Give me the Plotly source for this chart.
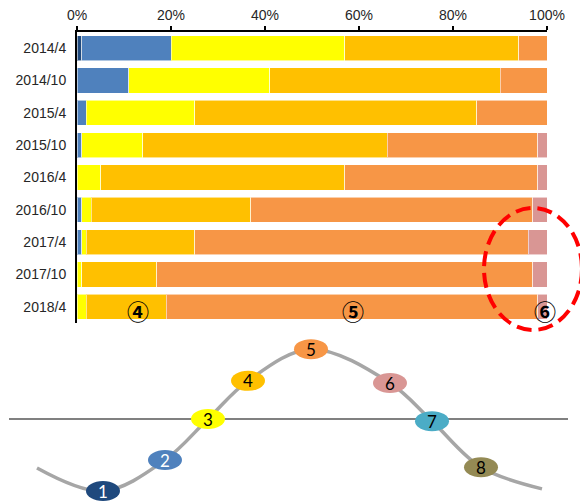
import plotly.graph_objects as go

# ---- stacked share data (percent of each survey round) ----
periods = ["2014/4", "2014/10", "2015/4", "2015/10", "2016/4",
           "2016/10", "2017/4", "2017/10", "2018/4"]
stage1 = [1, 0, 0, 0, 0, 0, 0, 0, 0]
stage2 = [19, 11, 2, 1, 0, 1, 1, 0, 0]
stage3 = [37, 30, 23, 13, 5, 2, 1, 1, 2]
stage4 = [37, 49, 60, 52, 52, 34, 23, 16, 17]
stage5 = [6, 10, 15, 32, 41, 60, 71, 80, 79]
stage6 = [0, 0, 0, 2, 2, 3, 4, 3, 2]

tick_vals = [0, 20, 40, 60, 80, 100]
tick_text = ["0%", "20%", "40%", "60%", "80%", "100%"]

# ---- cycle diagram: stage labels and their place on the wave ----
stage_labels = ["1", "2", "3", "4", "5", "6", "7", "8"]
stage_pos_x = [103, 165, 208, 248, 311, 390, 432, 481]
stage_level = [-1.0, -0.57, 0.0, 0.53, 0.97, 0.5, -0.03, -0.67]
wave_x = [37] + stage_pos_x + [542]
wave_y = [-0.68] + stage_level + [-0.97]

stage_colors = ["#1F497D", "#4F81BD", "#FFFF00", "#FFC000",
                "#F79646", "#D99694", "#4BACC6", "#948A54"]
stage_text_colors = ["white", "white", "black", "black",
                     "black", "black", "black", "black"]

W, H = 580, 501
fig = go.Figure()

series = [stage1, stage2, stage3, stage4, stage5, stage6]
for i, vals in enumerate(series):
    fig.add_trace(go.Bar(
        y=periods, x=vals, orientation="h",
        marker=dict(color=stage_colors[i],
                    line=dict(color="rgba(255,255,255,0.55)", width=1)),
        name=stage_labels[i], showlegend=False, hoverinfo="x+y",
        xaxis="x", yaxis="y",
    ))

# cycle wave and the zero line
fig.add_trace(go.Scatter(
    x=[9, 568], y=[0, 0], mode="lines",
    line=dict(color="#808080", width=2),
    xaxis="x2", yaxis="y2", showlegend=False, hoverinfo="skip"))
fig.add_trace(go.Scatter(
    x=wave_x, y=wave_y, mode="lines",
    line=dict(color="#A6A6A6", width=3.5, shape="spline", smoothing=1.0),
    xaxis="x2", yaxis="y2", showlegend=False, hoverinfo="skip"))

# diagram units: 72 px per level unit, midline at 419 px from the top
unit = 72.0
y2_top = 419 / unit
y2_bot = (419 - H) / unit

shapes = []
annotations = []
for lab, sx, sy, col, tcol in zip(stage_labels, stage_pos_x, stage_level,
                                  stage_colors, stage_text_colors):
    shapes.append(dict(type="circle", xref="x2", yref="y2",
                       x0=sx - 17, x1=sx + 17,
                       y0=sy - 10 / unit, y1=sy + 10 / unit,
                       fillcolor=col, line=dict(width=0), layer="above"))
    annotations.append(dict(x=sx, y=sy, xref="x2", yref="y2", text=lab,
                            showarrow=False,
                            font=dict(family="Lato", size=17, color=tcol)))

# highlight of the late-stage share
shapes.append(dict(type="circle", xref="x2", yref="y2",
                   x0=484, x1=582,
                   y0=(419 - 330) / unit, y1=(419 - 208) / unit,
                   line=dict(color="#FF0000", width=4, dash="15px,7px"),
                   fillcolor="rgba(0,0,0,0)", layer="above"))

# circled stage markers on the latest bar
for txt, xv in [("④", 13), ("⑤", 58.7), ("⑥", 99.6)]:
    annotations.append(dict(x=xv, y="2018/4", xref="x", yref="y",
                            text="<b>" + txt + "</b>", yshift=-3,
                            showarrow=False,
                            font=dict(family="Noto Sans CJK JP", size=22,
                                      color="black")))

fig.update_layout(
    width=W, height=H,
    margin=dict(l=0, r=0, t=0, b=0, autoexpand=False),
    paper_bgcolor="white", plot_bgcolor="rgba(0,0,0,0)",
    barmode="stack", bargap=0.225,
    xaxis=dict(domain=[77 / W, 547 / W], range=[0, 100], side="top",
               tickvals=tick_vals, ticktext=tick_text,
               ticks="outside", ticklen=4, tickwidth=1.5, tickcolor="black",
               showline=True, linecolor="black", linewidth=2,
               showgrid=False, zeroline=False, fixedrange=True,
               automargin=False,
               tickfont=dict(family="Liberation Sans", size=14, color="#262626"),
               anchor="y"),
    yaxis=dict(domain=[1 - 323 / H, 1 - 32 / H],
               categoryorder="array", categoryarray=periods,
               autorange="reversed",
               showline=True, linecolor="black", linewidth=2,
               ticks="", showgrid=False, zeroline=False,
               ticklabelstandoff=6, automargin=False,
               tickfont=dict(family="Liberation Sans", size=14, color="#262626"),
               anchor="x"),
    xaxis2=dict(domain=[0, 1], range=[0, W], visible=False, anchor="y2",
                fixedrange=True, automargin=False),
    yaxis2=dict(domain=[0, 1], range=[y2_bot, y2_top], visible=False,
                anchor="x2", fixedrange=True, automargin=False),
    shapes=shapes, annotations=annotations,
)

fig.write_html("out.html")
